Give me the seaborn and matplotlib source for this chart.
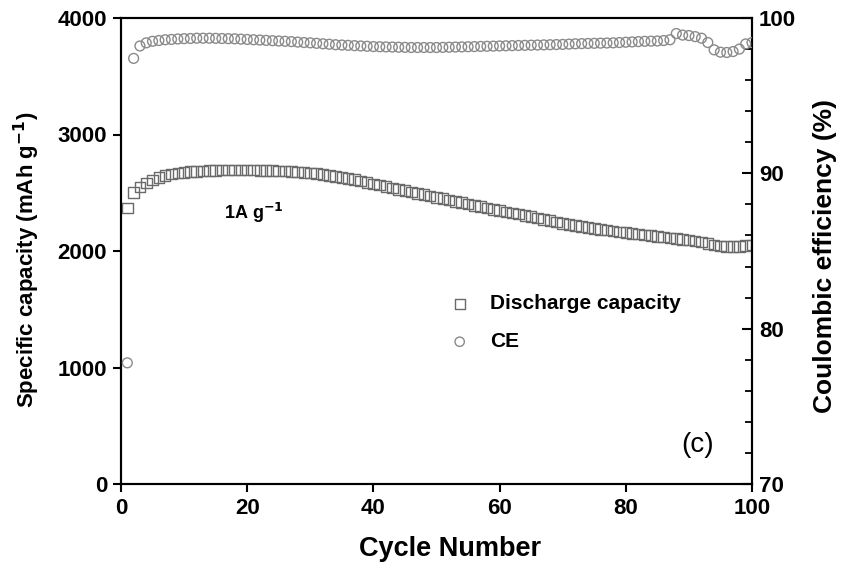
import matplotlib
matplotlib.use("Agg")
import matplotlib.pyplot as plt
import seaborn as sns
import numpy as np
import pandas as pd
from matplotlib.ticker import MultipleLocator

cycles = list(range(1, 101))

capacity = [
    2370, 2500, 2548, 2582, 2608, 2630, 2648, 2660, 2668, 2674,
    2680, 2684, 2687, 2690, 2692, 2694, 2695, 2696, 2696, 2695,
    2694, 2693, 2692, 2690, 2688, 2685, 2682, 2678, 2674, 2670,
    2665, 2658, 2650, 2641, 2632, 2622, 2612, 2600, 2588, 2576,
    2565, 2553, 2541, 2530, 2518, 2507, 2495, 2484, 2472, 2461,
    2450, 2438, 2426, 2414, 2403, 2392, 2380, 2369, 2357, 2346,
    2336, 2326, 2316, 2305, 2295, 2285, 2272, 2260, 2248, 2237,
    2228, 2219, 2211, 2202, 2194, 2187, 2179, 2172, 2164, 2157,
    2151, 2145, 2138, 2132, 2126, 2120, 2113, 2107, 2100, 2094,
    2086, 2076, 2064, 2052, 2042, 2040, 2039, 2040, 2048, 2052,
]

ce = [
    77.8, 97.4, 98.2, 98.4, 98.5, 98.55, 98.6, 98.62, 98.65, 98.67,
    98.68, 98.7, 98.7, 98.7, 98.69, 98.68, 98.67, 98.66, 98.64, 98.62,
    98.6, 98.58, 98.56, 98.54, 98.52, 98.5, 98.48, 98.45, 98.42, 98.4,
    98.37, 98.34, 98.31, 98.28, 98.26, 98.24, 98.22, 98.2, 98.18, 98.16,
    98.15, 98.14, 98.13, 98.12, 98.11, 98.1, 98.1, 98.1, 98.1, 98.1,
    98.11, 98.12, 98.13, 98.14, 98.15, 98.16, 98.17, 98.18, 98.19, 98.2,
    98.21, 98.22, 98.23, 98.24, 98.25, 98.26, 98.27, 98.28, 98.29, 98.3,
    98.32, 98.34, 98.35, 98.36, 98.37, 98.38, 98.39, 98.4, 98.42, 98.44,
    98.46, 98.48, 98.5, 98.51, 98.52, 98.55, 98.6, 99.0, 98.9, 98.87,
    98.8, 98.7, 98.42, 97.95, 97.8, 97.78, 97.84, 98.0, 98.33, 98.42,
]

x_ticks = [0, 20, 40, 60, 80, 100]
left_ticks = [0, 1000, 2000, 3000, 4000]
right_ticks = [70, 80, 90, 100]

sns.set_style("white")
plt.rcParams['font.family'] = ['Liberation Sans', 'DejaVu Sans']
plt.rcParams.update({"text.color": "black", "axes.labelcolor": "black",
                     "xtick.color": "black", "ytick.color": "black",
                     "mathtext.default": "regular"})

df = pd.DataFrame({"cycle": cycles, "capacity": capacity, "ce": ce})

fig = plt.figure(figsize=(8.41, 5.71), dpi=100)
ax = fig.add_axes([121/841, 87/571, (752-121)/841, (484-18)/571])
ax2 = ax.twinx()

sns.scatterplot(data=df, x="cycle", y="capacity", ax=ax, marker="s", s=58,
                facecolor="none", edgecolor="#6a6a6a", linewidth=1.0,
                label="Discharge capacity", legend=False, zorder=3)
sns.scatterplot(data=df, x="cycle", y="ce", ax=ax2, marker="o", s=50,
                facecolor="none", edgecolor="#8a8a8a", linewidth=1.0,
                label="CE", legend=False, zorder=3)

ax.set_xlim(0, 100)
ax.set_ylim(0, 4000)
ax2.set_ylim(70, 100)
ax.set_xticks(x_ticks)
ax.set_yticks(left_ticks)
ax2.set_yticks(right_ticks)
ax2.yaxis.set_minor_locator(MultipleLocator(2))

for a in (ax, ax2):
    for s in a.spines.values():
        s.set_linewidth(1.5)
        s.set_color("black")
        s.set_visible(True)

ax.tick_params(axis="both", which="major", direction="out", length=6, width=1.5,
               labelsize=16, pad=4, left=True, bottom=True)
ax2.tick_params(axis="y", which="major", direction="in", length=7, width=1.5,
                labelsize=16, pad=5, right=True)
ax2.tick_params(axis="y", which="minor", direction="in", length=5, width=1.3, right=True)
for lab in ax.get_xticklabels() + ax.get_yticklabels() + ax2.get_yticklabels():
    lab.set_fontweight("bold")

ax.set_xlabel("Cycle Number", fontsize=19.5, fontweight="bold", labelpad=12)
ax.xaxis.label.set_x(0.522)
ax.set_ylabel(r"Specific capacity (mAh g$^{\mathbf{-1}}$)", fontsize=16, fontweight="bold", labelpad=11)
ax.yaxis.label.set_y(0.48)
ax2.set_ylabel("Coulombic efficiency (%)", fontsize=19, fontweight="bold", labelpad=12)
ax2.yaxis.label.set_y(0.49)

ax.text(21, 2330, r"1A g$^{\mathbf{-1}}$", fontsize=13, fontweight="bold", ha="center", va="center")
ax2.text(91.3, 72.5, "(c)", fontsize=20, ha="center", va="center")

h1 = ax.collections[0]
h2 = ax2.collections[0]
leg = ax2.legend([h1, h2], ["Discharge capacity", "CE"], loc="upper left",
                 bbox_to_anchor=(0.474, 0.447), frameon=False,
                 prop={"size": 15, "weight": "bold"}, handletextpad=0.45,
                 labelspacing=0.9, markerscale=0.95)

fig.savefig("out.png", dpi=100)
